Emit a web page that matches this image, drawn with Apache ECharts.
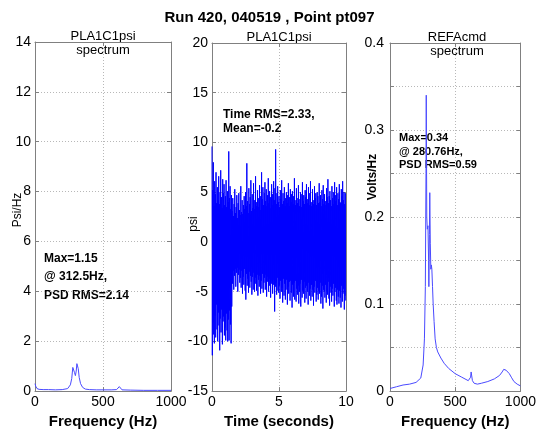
<!DOCTYPE html>
<html><head><meta charset="utf-8">
<script src="https://cdn.jsdelivr.net/npm/echarts@6/dist/echarts.min.js"></script>
<style>html,body{margin:0;padding:0;background:#fff}#c{width:539px;height:434px}</style>
</head><body><div id="c"></div>
<script>
// ---- data ----
const titleText = 'Run 420, 040519 , Point pt097';
const freqTicks = [0, 500, 1000];
const timeTicks = [0, 5, 10];

// left: PLA1C1psi spectrum
const freqL = [0, 5, 15, 30, 60, 100, 150, 200, 240, 260, 270, 278, 283, 290, 297, 303, 308, 313, 318, 325, 335, 350, 370, 400, 450, 500, 560, 600, 612, 620, 628, 640, 700, 800, 900, 1000];
const psdL  = [0.3, 0.2, 0.1, 0.07, 0.06, 0.06, 0.05, 0.06, 0.1, 0.25, 0.5, 0.95, 1.0, 0.75, 0.62, 0.8, 1.1, 1.15, 0.9, 0.55, 0.3, 0.15, 0.08, 0.06, 0.05, 0.05, 0.05, 0.06, 0.1, 0.18, 0.1, 0.05, 0.04, 0.03, 0.03, 0.03];

// middle: PLA1C1psi time history (samples every 0.025 s, 20 per row)
const sampleInterval = 0.025;
const psiTime = [
  9.6,-11.4,5.2,-8.1,8.0,-9.3,3.6,-10.2,6.1,-7.4,4.8,-9.6,7.0,-6.3,3.9,-8.8,5.5,-10.0,4.2,-7.1,
  6.6,-8.4,3.8,-10.9,5.0,-7.7,7.2,-9.1,4.5,-6.8,3.4,-10.3,6.3,-8.0,4.9,-7.5,5.8,-9.4,3.7,-8.6,
  4.6,-9.9,6.2,-7.2,3.5,-8.9,5.1,-10.0,4.0,-7.8,9.1,-9.9,4.4,-6.9,5.6,-8.3,3.3,-10.2,4.7,-6.5,
  3.1,-4.2,4.4,-2.9,2.6,-4.8,3.8,-3.4,5.3,-2.7,2.9,-4.5,3.5,-3.1,4.7,-2.6,2.4,-5.0,3.9,-3.3,
  4.9,-2.8,3.2,-4.1,2.7,-3.6,5.6,-4.6,3.0,-2.9,4.2,-5.2,2.8,-3.5,3.7,-4.3,4.6,-2.7,3.3,-4.9,
  5.0,-5.8,3.6,-3.2,7.9,-4.4,4.1,-3.7,2.9,-5.1,5.4,-3.0,3.8,-4.6,4.5,-3.4,6.2,-4.0,3.1,-5.3,
  4.8,-3.5,3.4,-4.8,5.9,-3.1,4.2,-5.0,3.3,-4.2,6.6,-3.6,4.0,-4.9,3.6,-3.3,5.2,-5.4,4.4,-3.8,
  3.5,-4.5,5.7,-3.4,4.6,-5.2,3.2,-3.9,7.0,-4.7,4.3,-3.2,5.5,-5.1,3.7,-4.1,4.9,-3.6,6.0,-4.8,
  4.1,-3.3,5.3,-5.5,3.6,-4.0,4.7,-3.5,6.4,-5.0,3.9,-4.4,5.1,-3.7,4.5,-5.6,3.4,-4.2,5.8,-3.9,
  4.8,-5.2,3.7,-4.3,6.1,-3.8,4.2,-7.0,5.4,-4.5,9.3,-4.1,3.8,-5.3,4.9,-3.6,5.6,-4.9,4.0,-5.1,
  4.6,-4.4,3.5,-5.7,5.2,-3.9,4.3,-5.0,6.2,-4.6,3.8,-6.1,4.9,-3.7,4.1,-5.4,5.5,-4.2,3.6,-5.8,
  4.4,-4.8,5.0,-3.8,3.9,-6.3,4.7,-4.5,5.9,-5.2,3.6,-4.0,4.5,-5.9,5.3,-3.9,4.0,-5.1,4.8,-6.6,
  5.1,-4.3,3.8,-5.5,4.6,-4.1,6.4,-5.8,4.2,-3.9,3.7,-6.0,5.4,-4.7,4.4,-5.3,3.9,-4.4,5.7,-6.2,
  4.3,-5.0,3.6,-4.2,5.0,-6.5,4.8,-3.8,3.5,-5.6,6.0,-4.9,4.1,-5.2,4.7,-4.0,3.8,-6.1,5.2,-4.6,
  4.5,-5.7,5.8,-4.4,3.9,-5.0,4.3,-6.3,5.5,-4.1,3.7,-5.4,4.9,-4.7,6.1,-5.9,4.0,-4.3,3.6,-5.5,
  5.3,-4.8,4.2,-6.4,3.8,-4.5,5.6,-5.1,4.4,-3.9,4.9,-6.0,3.7,-5.3,5.0,-4.6,4.6,-5.8,3.9,-4.9,
  5.9,-5.2,4.0,-4.1,4.7,-6.2,3.6,-5.5,5.2,-4.4,4.3,-6.7,5.7,-4.8,3.8,-5.0,4.8,-5.6,4.1,-4.3,
  3.7,-6.1,5.4,-4.9,4.5,-5.3,6.3,-4.0,3.9,-5.7,4.6,-6.4,5.1,-4.5,4.2,-5.1,3.6,-6.0,5.6,-4.7,
  4.4,-5.4,5.0,-4.2,3.8,-6.5,6.0,-5.0,4.7,-4.6,4.1,-5.9,5.5,-6.3,3.7,-4.8,4.9,-5.5,4.3,-6.2,
  5.8,-4.9,4.0,-5.6,3.9,-6.6,5.3,-4.4,4.6,-6.0,6.1,-5.2,4.2,-4.7,5.0,-6.8,3.8,-5.4,4.9,-5.9
];

// right: REFAcmd spectrum
const freqR = [0, 50, 100, 150, 200, 236, 254, 264, 271, 276, 278, 282, 286, 291, 296, 298, 302, 305, 309, 313, 317, 321, 326, 331, 338, 346, 356, 366, 390, 415, 450, 500, 550, 600, 612, 618, 622, 626, 632, 645, 670, 700, 750, 800, 840, 860, 872, 881, 890, 900, 915, 930, 950, 975, 1000];
const psdR  = [0.003, 0.005, 0.007, 0.008, 0.01, 0.015, 0.03, 0.06, 0.12, 0.25, 0.34, 0.2, 0.186, 0.19, 0.15, 0.12, 0.18, 0.228, 0.17, 0.14, 0.145, 0.14, 0.12, 0.1, 0.08, 0.06, 0.05, 0.045, 0.038, 0.032, 0.026, 0.02, 0.016, 0.012, 0.012, 0.016, 0.022, 0.02, 0.012, 0.009, 0.008, 0.009, 0.011, 0.014, 0.018, 0.022, 0.025, 0.027, 0.024, 0.022, 0.02, 0.016, 0.011, 0.008, 0.006];

// ---- chart ----
const FONT = 'Liberation Sans, Arial, sans-serif';
const frame = '#808080';
const gridLine = { show: true, lineStyle: { color: '#b8b8b8', type: [1, 2], width: 1 } };
const grids = [
  { left: 35, top: 42, width: 136, height: 357 },
  { left: 212, top: 43, width: 134, height: 356 },
  { left: 390, top: 43, width: 134, height: 355 }
];
const xCfg = [
  { min: 0, max: 1000, interval: 500, name: 'Frequency (Hz)' },
  { min: 0, max: 10, interval: 5, name: 'Time (seconds)' },
  { min: 0, max: 1000, interval: 500, name: 'Frequency (Hz)' }
];
const yCfg = [
  { min: 0, max: 14, interval: 2 },
  { min: -15, max: 20, interval: 5 },
  { min: 0, max: 0.4, interval: 0.05 }
];
const xAxes = [], yAxes = [];
grids.forEach((g, i) => {
  const xc = xCfg[i], yc = yCfg[i];
  xAxes.push({
    type: 'value', gridIndex: i, position: 'bottom', min: xc.min, max: xc.max, interval: xc.interval,
    axisLine: { show: true, onZero: false, lineStyle: { color: frame } },
    axisTick: { show: true, inside: true, length: 4, lineStyle: { color: frame } },
    axisLabel: { color: '#000', fontSize: 14, fontFamily: FONT, margin: 4, showMinLabel: true, showMaxLabel: true, formatter: v => String(v) },
    splitLine: gridLine,
    name: xc.name, nameLocation: 'middle', nameGap: 16,
    nameTextStyle: { color: '#000', fontSize: 15, fontWeight: 'bold', fontFamily: FONT, verticalAlign: 'top' }
  });
  xAxes.push({
    type: 'value', gridIndex: i, position: 'top', min: xc.min, max: xc.max, interval: xc.interval,
    axisLine: { show: true, onZero: false, lineStyle: { color: frame } },
    axisTick: { show: true, inside: true, length: 4, lineStyle: { color: frame } },
    axisLabel: { show: false }, splitLine: { show: false }
  });
  yAxes.push({
    type: 'value', gridIndex: i, position: 'left', min: yc.min, max: yc.max, interval: yc.interval,
    axisLine: { show: true, onZero: false, lineStyle: { color: frame } },
    axisTick: { show: true, inside: true, length: 4, lineStyle: { color: frame } },
    axisLabel: {
      color: '#000', fontSize: 14, fontFamily: FONT, margin: i === 2 ? 6 : 4,
      formatter: i === 2 ? (v => (Math.round(v * 100) % 10 === 0 ? String(Math.round(v * 10) / 10) : '')) : (v => String(v))
    },
    splitLine: gridLine
  });
  yAxes.push({
    type: 'value', gridIndex: i, position: 'right', min: yc.min, max: yc.max, interval: yc.interval,
    axisLine: { show: true, onZero: false, lineStyle: { color: frame } },
    axisTick: { show: true, inside: true, length: 4, lineStyle: { color: frame } },
    axisLabel: { show: false }, splitLine: { show: false }
  });
});

const seriesL = freqL.map((f, k) => [f, psdL[k]]);
const seriesM = psiTime.map((v, k) => [k * sampleInterval, v]);
const seriesR = freqR.map((f, k) => [f, psdR[k]]);

const txt = (x, y, text, opts) => ({
  type: 'text', x: x, y: y, silent: true,
  style: Object.assign({ text: text, fill: '#000', font: '12px ' + FONT, textAlign: 'left', textVerticalAlign: 'middle' }, opts || {})
});

const chart = echarts.init(document.getElementById('c'), null, { renderer: 'canvas' });
chart.setOption({
  animation: false,
  backgroundColor: '#fff',
  title: { text: titleText, left: 'center', top: 5, textStyle: { fontSize: 15, fontWeight: 'bold', fontFamily: FONT, color: '#000' } },
  grid: grids,
  xAxis: xAxes,
  yAxis: yAxes,
  series: [
    { type: 'line', xAxisIndex: 0, yAxisIndex: 0, data: seriesL, showSymbol: false, lineStyle: { color: '#4a4aff', width: 1 }, z: 3 },
    { type: 'line', xAxisIndex: 2, yAxisIndex: 2, data: seriesM, showSymbol: false, lineStyle: { color: '#0000ff', width: 1 }, z: 3 },
    { type: 'line', xAxisIndex: 4, yAxisIndex: 4, data: seriesR, showSymbol: false, lineStyle: { color: '#4a4aff', width: 1 }, z: 3 }
  ],
  graphic: [
    txt(103, 36, 'PLA1C1psi', { textAlign: 'center', font: '13px ' + FONT }),
    txt(103, 50, 'spectrum', { textAlign: 'center', font: '13px ' + FONT }),
    txt(279, 37, 'PLA1C1psi', { textAlign: 'center', font: '13px ' + FONT }),
    txt(457, 37, 'REFAcmd', { textAlign: 'center', font: '13px ' + FONT }),
    txt(457, 51, 'spectrum', { textAlign: 'center', font: '13px ' + FONT }),
    txt(44, 259, 'Max=1.15', { font: 'bold 12px ' + FONT }),
    txt(44, 277, '@ 312.5Hz,', { font: 'bold 12px ' + FONT }),
    txt(44, 296, 'PSD RMS=2.14', { font: 'bold 12px ' + FONT }),
    txt(223, 115, 'Time RMS=2.33,', { font: 'bold 12px ' + FONT }),
    txt(223, 129, 'Mean=-0.2', { font: 'bold 12px ' + FONT }),
    txt(399, 138, 'Max=0.34', { font: 'bold 11px ' + FONT }),
    txt(399, 152, '@ 280.76Hz,', { font: 'bold 11px ' + FONT }),
    txt(399, 165, 'PSD RMS=0.59', { font: 'bold 11px ' + FONT }),
    { type: 'text', x: 18, y: 210, rotation: Math.PI / 2, silent: true,
      style: { text: 'Psi/Hz', fill: '#000', font: '12px ' + FONT, textAlign: 'center', textVerticalAlign: 'middle' } },
    { type: 'text', x: 194, y: 224, rotation: Math.PI / 2, silent: true,
      style: { text: 'psi', fill: '#000', font: '12px ' + FONT, textAlign: 'center', textVerticalAlign: 'middle' } },
    { type: 'text', x: 373, y: 177, rotation: Math.PI / 2, silent: true,
      style: { text: 'Volts/Hz', fill: '#000', font: 'bold 12px ' + FONT, textAlign: 'center', textVerticalAlign: 'middle' } }
  ]
});
</script></body></html>
